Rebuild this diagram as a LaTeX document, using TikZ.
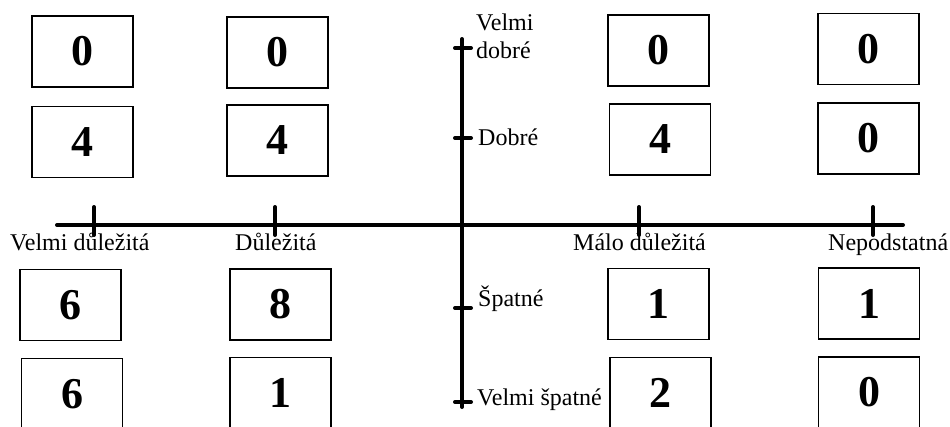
\documentclass[tikz,border=0pt]{standalone}
\usepackage{fontspec}
\setmainfont{Liberation Serif}
\begin{document}
\begin{tikzpicture}[x=1pt, y=-1pt,
  cell/.style={draw, line width=1.2pt, minimum width=101pt, minimum height=71pt, inner sep=0pt, font=\fontsize{44}{44}\selectfont\bfseries},
  lab/.style={anchor=base west, inner sep=0pt, font=\fontsize{24}{28}\selectfont},
  axis/.style={line width=4pt, line cap=round}]
\useasboundingbox (0,0) rectangle (950,426);
% axes
\coordinate (hl) at (57,225);
\coordinate (hr) at (903,225);
\coordinate (vt) at (462,39);
\coordinate (vb) at (462,407);
\draw[axis] (hl) -- (hr);
\draw[axis] (vt) -- (vb);
\draw[axis] (94,207) -- (94,235);
\draw[axis] (275,207) -- (275,235);
\draw[axis] (639,207) -- (639,235);
\draw[axis] (873,207) -- (873,235);
\draw[axis] (455,48) -- (471,48);
\draw[axis] (455,138) -- (471,138);
\draw[axis] (455,308) -- (471,308);
\draw[axis] (455,402) -- (471,402);
% labels
\node[lab, align=left] (vdob) at (476,58) {Velmi\\dobré};
\node[lab] (dob) at (478,145) {Dobré};
\node[lab] (spat) at (478,306) {Špatné};
\node[lab] (vspat) at (477,405) {Velmi špatné};
\node[lab] (vdul) at (10,250) {Velmi důležitá};
\node[lab] (dul) at (235,250) {Důležitá};
\node[lab] (mdul) at (573,250) {Málo důležitá};
\node[lab] (nep) at (828,250) {Nepodstatná};
% counts
\node[cell] (a1) at (82.5,51.5) {0};
\node[cell] (b1) at (277.5,52.5) {0};
\node[cell] (c1) at (658.5,50.5) {0};
\node[cell] (d1) at (868.5,49) {0};
\node[cell] (a2) at (82.5,142) {4};
\node[cell] (b2) at (277.5,140.5) {4};
\node[cell] (c2) at (660,139.5) {4};
\node[cell] (d2) at (868.5,138.5) {0};
\node[cell] (a3) at (70.5,305) {6};
\node[cell] (b3) at (280.5,304.5) {8};
\node[cell] (c3) at (658.5,304) {1};
\node[cell] (d3) at (869,303.5) {1};
\node[cell] (a4) at (72,394) {6};
\node[cell] (b4) at (280.5,393) {1};
\node[cell] (c4) at (660.5,393) {2};
\node[cell] (d4) at (869,392.5) {0};
\end{tikzpicture}
\end{document}
